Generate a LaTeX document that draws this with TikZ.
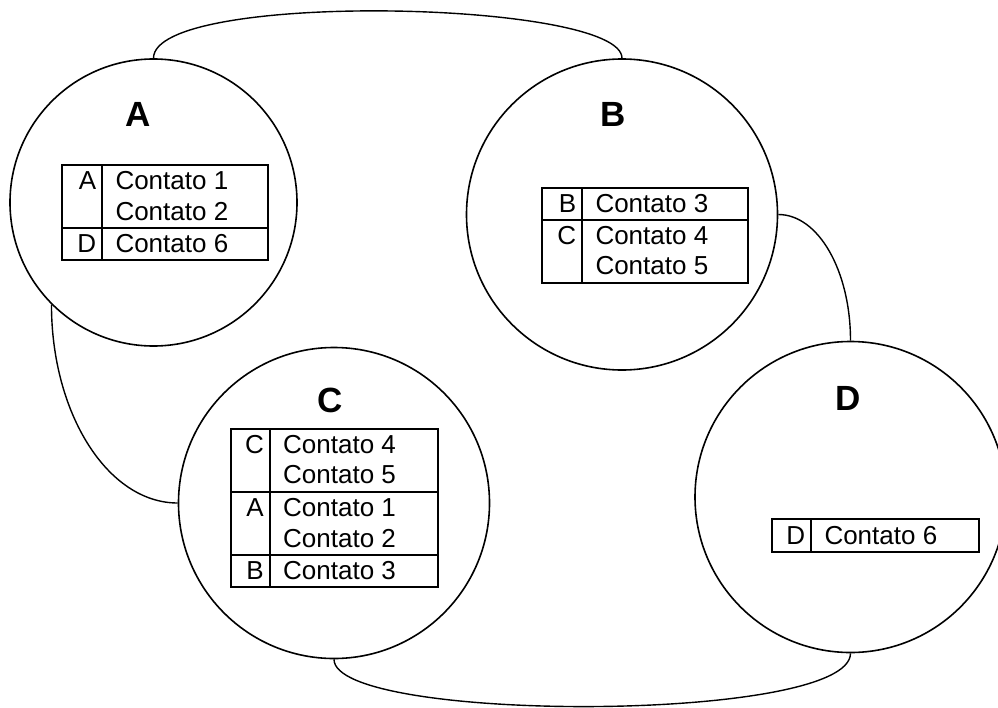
\documentclass[tikz,border=0pt]{standalone}
\usepackage{fontspec}
\setmainfont{Liberation Sans}
\begin{document}
\begin{tikzpicture}[x=1pt,y=-1pt,
  peer/.style={circle,draw,line width=1.6pt,inner sep=0pt,minimum size=#1},
  link/.style={line width=1.4pt},
  grid/.style={line width=2pt},
  tag/.style={font=\fontsize{35}{42}\selectfont\bfseries,inner sep=0pt,anchor=base},
  key/.style={font=\fontsize{26}{31}\selectfont,inner sep=0pt,anchor=base east},
  entry/.style={font=\fontsize{26}{31}\selectfont,inner sep=0pt,anchor=base west}]

\useasboundingbox (0,0) rectangle (998,707);

% the four peers
\node[peer=287pt] (A) at (153.5,202.5) {};
\node[peer=311pt] (B) at (622,214.5) {};
\node[peer=311pt] (C) at (334,503) {};
\node[peer=311pt] (D) at (850.5,497) {};

% peer names
\node[tag] (nameA) at (138.3,126.5) {A};
\node[tag] (nameB) at (613,126.5) {B};
\node[tag] (nameC) at (330.5,412.5) {C};
\node[tag] (nameD) at (848.3,410) {D};

% links between peers
\draw[link] (A.north) .. controls +(0,-68) and +(0,-58) .. (B.north);
\draw[link] (B.east) .. controls +(40,0) and +(0,-70) .. (D.north);
\draw[link] (A.south west) .. controls +(0,109) and +(-70,0) .. (C.west);
\draw[link] (C.south) .. controls +(0,64) and +(0,70) .. (D.south);

% contact table of A
\begin{scope}[shift={(62.3,165)}]
  \draw[grid] (0,0) rectangle (206,94.5) (40,0) -- (40,94.5) (0,63) -- (206,63);
  \node[key] (aA) at (34,24.5) {A};
  \node[entry] (aA1) at (53,24.5) {Contato 1};
  \node[entry] (aA2) at (53,55) {Contato 2};
  \node[key] (aD) at (34,87.5) {D};
  \node[entry] (aD6) at (53,87.5) {Contato 6};
\end{scope}

% contact table of B
\begin{scope}[shift={(542.3,188.3)}]
  \draw[grid] (0,0) rectangle (206,95) (40,0) -- (40,95) (0,31.5) -- (206,31.5);
  \node[key] (bB) at (34,24.5) {B};
  \node[entry] (bB3) at (53,24.5) {Contato 3};
  \node[key] (bC) at (34,56) {C};
  \node[entry] (bC4) at (53,56) {Contato 4};
  \node[entry] (bC5) at (53,86.5) {Contato 5};
\end{scope}

% contact table of C
\begin{scope}[shift={(231,428.7)}]
  \draw[grid] (0,0) rectangle (206.5,158) (39,0) -- (39,158)
    (0,63.3) -- (206.5,63.3) (0,126.3) -- (206.5,126.3);
  \node[key] (cC) at (33,24.5) {C};
  \node[entry] (cC4) at (52,24.5) {Contato 4};
  \node[entry] (cC5) at (52,55) {Contato 5};
  \node[key] (cA) at (33,87.8) {A};
  \node[entry] (cA1) at (52,87.8) {Contato 1};
  \node[entry] (cA2) at (52,118.3) {Contato 2};
  \node[key] (cB) at (33,150.8) {B};
  \node[entry] (cB3) at (52,150.8) {Contato 3};
\end{scope}

% contact table of D
\begin{scope}[shift={(772.3,519.3)}]
  \draw[grid] (0,0) rectangle (207,33) (38.7,0) -- (38.7,33);
  \node[key] (dD) at (33,25.5) {D};
  \node[entry] (dD6) at (52,25.5) {Contato 6};
\end{scope}
\end{tikzpicture}
\end{document}
